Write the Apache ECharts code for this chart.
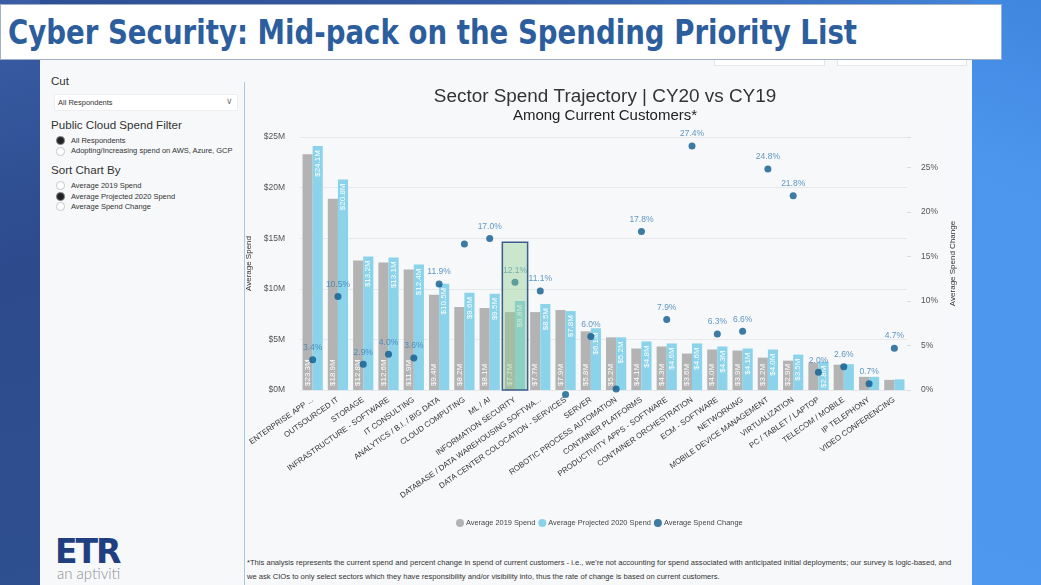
<!DOCTYPE html>
<html><head><meta charset="utf-8">
<script src="https://cdn.jsdelivr.net/npm/echarts@6/dist/echarts.min.js"></script>
<style>
html,body{margin:0;padding:0;width:1041px;height:585px;overflow:hidden;font-family:'Liberation Sans',Arial,sans-serif;}
.abs{position:absolute;}
#bg{left:0;top:0;width:1041px;height:585px;background:linear-gradient(120deg,#2f4f94 0%,#33589f 30%,#3d74c4 60%,#4a90e6 80%,#4f98ef 100%);}
#leftstrip{left:0;top:0;width:40px;height:585px;background:linear-gradient(165deg,#3a5ea6 0%,#2c4a8c 45%,#2f5090 100%);}
#rightstrip{left:972px;top:0;width:69px;height:585px;background:linear-gradient(200deg,#3f86df 0%,#4d96ee 30%,#4e98f0 100%);}
#panel{left:40px;top:60px;width:932px;height:525px;background:#f7f8fa;}
.box{background:#fff;border:1px solid #e4e6ea;box-sizing:border-box;}
#banner{left:0;top:4px;width:1002px;height:56px;background:#fff;border:1px solid #9fb0c8;box-sizing:border-box;}
#bannerText{left:8px;top:14px;font-family:'DejaVu Sans Condensed','Liberation Sans',sans-serif;font-weight:bold;font-size:33px;line-height:38px;color:#2c5e9e;white-space:nowrap;transform:scaleX(0.93);transform-origin:0 0;}
#sep{left:244px;top:82px;width:1px;height:503px;background:#a9c8e3;}
.h1{font-size:11.5px;color:#333;white-space:nowrap;}
.h2{font-size:11.6px;color:#333;white-space:nowrap;}
.opt{font-size:7.5px;color:#333;white-space:nowrap;}
.radio{width:8.5px;height:8.5px;border-radius:50%;box-sizing:border-box;}
.on{background:#222;border:1.6px solid #8a8a8a;}
.off{background:#fff;border:1px solid #c8c8c8;}
#dd{left:54px;top:94px;width:184px;height:17px;background:#fff;border:1px solid #eceef1;box-sizing:border-box;}
#foot{left:247px;top:556px;font-family:'Liberation Sans',sans-serif;font-size:7.6px;color:#333;line-height:14px;white-space:nowrap;}
#etr{left:55px;top:532px;font-family:'DejaVu Sans','Liberation Sans',sans-serif;font-weight:900;font-size:33px;color:#1f3f80;letter-spacing:-2px;}
#apt{left:57px;top:564px;font-family:'Lato','Liberation Sans',sans-serif;font-weight:300;font-size:15px;color:#8c9097;}
#chart{left:244px;top:62px;width:728px;height:523px;}
</style></head>
<body>
<div id="bg" class="abs"></div>
<div id="leftstrip" class="abs"></div>
<div id="rightstrip" class="abs"></div>
<div id="panel" class="abs"></div>
<div class="abs box" style="left:714px;top:50px;width:111px;height:16px;"></div>
<div class="abs box" style="left:837px;top:50px;width:130px;height:16px;"></div>
<div id="banner" class="abs"></div>
<div id="bannerText" class="abs">Cyber Security: Mid-pack on the Spending Priority List</div>

<div class="abs h1" style="left:51px;top:75px;">Cut</div>
<div id="dd" class="abs"></div>
<div class="abs opt" style="left:58px;top:98px;">All Respondents</div>
<div class="abs" style="left:226px;top:96px;font-size:9px;color:#777;">&#8744;</div>
<div class="abs h2" style="left:51px;top:118px;">Public Cloud Spend Filter</div>
<div class="abs radio on" style="left:56px;top:136px;"></div>
<div class="abs opt" style="left:71px;top:136px;">All Respondents</div>
<div class="abs radio off" style="left:56px;top:147px;"></div>
<div class="abs opt" style="left:71px;top:146px;">Adopting/Increasing spend on AWS, Azure, GCP</div>
<div class="abs h2" style="left:51px;top:163px;">Sort Chart By</div>
<div class="abs radio off" style="left:56px;top:181px;"></div>
<div class="abs opt" style="left:71px;top:181px;">Average 2019 Spend</div>
<div class="abs radio on" style="left:56px;top:192px;"></div>
<div class="abs opt" style="left:71px;top:192px;">Average Projected 2020 Spend</div>
<div class="abs radio off" style="left:56px;top:202px;"></div>
<div class="abs opt" style="left:71px;top:202px;">Average Spend Change</div>

<div id="sep" class="abs"></div>
<div id="etr" class="abs">ETR</div>
<div id="apt" class="abs">an aptiviti</div>
<div id="foot" class="abs">*This analysis represents the current spend and percent change in spend of current customers - i.e., we're not accounting for spend associated with anticipated initial deployments; our survey is logic-based, and<br>we ask CIOs to only select sectors which they have responsibility and/or visibility into, thus the rate of change is based on current customers.</div>

<div id="chart" class="abs"></div>
<script>
const categories = ['ENTERPRISE APP ...','OUTSOURCED IT','STORAGE','INFRASTRUCTURE - SOFTWARE','IT CONSULTING','ANALYTICS / B.I. / BIG DATA','CLOUD COMPUTING','ML / AI','INFORMATION SECURITY','DATABASE / DATA WAREHOUSING SOFTWA...','DATA CENTER COLOCATION - SERVICES','SERVER','ROBOTIC PROCESS AUTOMATION','CONTAINER PLATFORMS','PRODUCTIVITY APPS - SOFTWARE','CONTAINER ORCHESTRATION','ECM - SOFTWARE','NETWORKING','MOBILE DEVICE MANAGEMENT','VIRTUALIZATION','PC / TABLET / LAPTOP','TELECOM / MOBILE','IP TELEPHONY','VIDEO CONFERENCING'];
const spend2019 = [23.3,18.9,12.8,12.6,11.9,9.4,8.2,8.1,7.7,7.7,7.9,5.8,5.2,4.1,4.3,3.6,4.0,3.9,3.2,2.9,2.7,2.5,1.3,1.0];
const spend2020 = [24.1,20.8,13.2,13.1,12.4,10.5,9.6,9.5,8.8,8.5,7.8,6.1,5.2,4.8,4.6,4.6,4.3,4.1,4.0,3.5,2.8,2.55,1.3,1.05];
const spendChange = [3.4,10.5,2.9,4.0,3.6,11.9,16.4,17.0,12.1,11.1,-0.5,6.0,0.1,17.8,7.9,27.4,6.3,6.6,24.8,21.8,2.0,2.6,0.7,4.7];
const hiddenChangeLabels = ['CLOUD COMPUTING','DATA CENTER COLOCATION - SERVICES','ROBOTIC PROCESS AUTOMATION'];
const highlightCategory = 'INFORMATION SECURITY';
const highlightTop = 14.6;
const spendAxisMax = 25;
const changeAxisMax = 28.4;
const seriesNames = ['Average 2019 Spend','Average Projected 2020 Spend','Average Spend Change'];

const chart = echarts.init(document.getElementById('chart'));
const barLabelMin = 2.75;
function barLabel(p){ return p.value >= barLabelMin ? '$' + p.value.toFixed(1) + 'M' : ''; }

chart.setOption({
  animation:false,
  title:[
    {text:'Sector Spend Trajectory | CY20 vs CY19', left:356, top:20, textAlign:'center',
     textStyle:{fontFamily:'Liberation Sans',fontSize:18.9,fontWeight:'normal',color:'#333'}},
    {text:'Among Current Customers*', left:356, top:41, textAlign:'center',
     textStyle:{fontFamily:'Liberation Sans',fontSize:15,fontWeight:'normal',color:'#222'}}
  ],
  legend:{
    data:seriesNames, left:207, top:452, icon:'circle', itemWidth:8, itemHeight:8, itemGap:3,
    textStyle:{fontSize:7.4, color:'#444', fontFamily:'Liberation Sans', padding:[0,0,0,-3]}
  },
  grid:{left:56, right:65, top:75, bottom:195, containLabel:false, outerBoundsMode:'none'},
  xAxis:{
    type:'category', data:categories,
    axisLine:{show:false}, axisTick:{show:false},
    axisLabel:{interval:0, rotate:35, fontSize:7.8, color:'#333', margin:9, fontFamily:'Liberation Sans'}
  },
  yAxis:[
    {type:'value', min:0, max:spendAxisMax, interval:5, name:'Average Spend', nameLocation:'middle', nameGap:41, nameRotate:90,
     nameTextStyle:{fontSize:8, color:'#333'},
     axisLabel:{formatter:v=>'$'+v+'M', fontSize:8.5, color:'#555', margin:15},
     splitLine:{lineStyle:{color:'#e6e8eb'}}, axisLine:{show:false}, axisTick:{show:false}},
    {type:'value', min:0, max:changeAxisMax, interval:5, name:'Average Spend Change', nameLocation:'middle', nameGap:33, nameRotate:90,
     nameTextStyle:{fontSize:8, color:'#333'},
     axisLabel:{formatter:v=>(v%5===0? v+'%':''), fontSize:8.5, color:'#555', margin:14},
     splitLine:{show:false}, axisLine:{show:false},
     axisTick:{show:true, length:4, inside:false, lineStyle:{color:'#dcdde0'}}}
  ],
  series:[
    {name:seriesNames[0], type:'bar', data:spend2019, barGap:'0%', barCategoryGap:'20%',
     itemStyle:{color:'#b3b3b3'},
     label:{show:true, position:'insideBottom', rotate:90, align:'left', verticalAlign:'middle', distance:4,
            color:'#fff', fontSize:8, formatter:barLabel},
     markArea:{silent:true, z:10,
       itemStyle:{color:'rgba(140,206,140,0.42)', borderColor:'#3d5b8c', borderWidth:1.5},
       data:[[{xAxis:highlightCategory, yAxis:highlightTop},{xAxis:highlightCategory, yAxis:0}]]}
    },
    {name:seriesNames[1], type:'bar', data:spend2020,
     itemStyle:{color:'#8ad3ea'},
     label:{show:true, position:'insideTop', rotate:90, align:'right', verticalAlign:'middle', distance:4,
            color:'#fff', fontSize:8, formatter:barLabel}
    },
    {name:seriesNames[2], type:'scatter', yAxisIndex:1, clip:false, symbolSize:7, z:5,
     itemStyle:{color:'#0b5b8f'},
     data:spendChange.map((v,i)=>({value:v, label:{show: hiddenChangeLabels.indexOf(categories[i])<0}})),
     label:{show:true, position:'top', distance:4, color:'#3a7db3', fontSize:8.5,
            formatter:p=>p.value.toFixed(1)+'%'}
    }
  ]
});
</script>
</body></html>
